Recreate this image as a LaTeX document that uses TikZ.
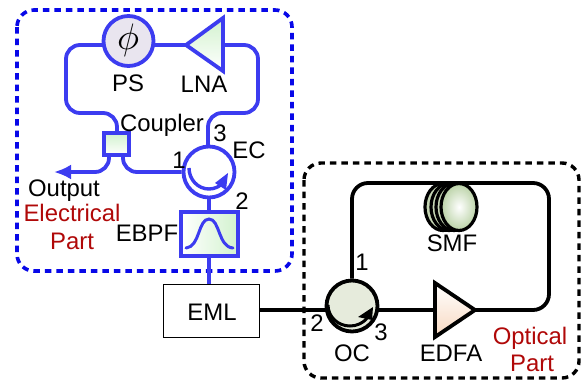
\documentclass[tikz,border=0pt]{standalone}
\usepackage{fontspec}
\setmainfont{Liberation Sans}
\usetikzlibrary{shapes.geometric,arrows.meta}
\definecolor{eblue}{HTML}{3C3CF0}
\definecolor{dblue}{HTML}{0808E8}
\definecolor{dred}{HTML}{B00808}
\definecolor{lgreen}{HTML}{D2F2CE}
\definecolor{psfill}{HTML}{E9E5EF}
\definecolor{ocfill}{HTML}{E6EBDC}
\definecolor{smfback}{HTML}{C6D6B4}
\definecolor{smffront}{HTML}{BAD2A6}
\definecolor{edfafill}{HTML}{F8D8C0}
\tikzset{
  lab/.style={font=\fontsize{24}{24}\selectfont,inner sep=0pt,text height=17bp,text depth=0pt,anchor=center},
  redlab/.style={lab,text=dred},
  ewire/.style={draw=eblue,line width=3.8bp,rounded corners=14bp},
  owire/.style={draw=black,line width=3.8bp,rounded corners=16bp},
  ebox/.style={draw=eblue,line width=3.8bp,inner sep=0pt,left color=lgreen,right color=white,shading angle=0},
  frameb/.style={draw=dblue,line width=3.6bp,dash pattern=on 6.5bp off 5bp,rounded corners=17bp},
  framek/.style={draw=black,line width=3.4bp,dash pattern=on 6.5bp off 5bp,rounded corners=17bp},
  coil/.style={ellipse,draw=black,line width=3.2bp,fill=smfback,minimum width=36bp,minimum height=47bp,inner sep=0pt},
}
\begin{document}
\begin{tikzpicture}[x=1bp,y=-1bp]
\useasboundingbox[fill=white] (0,0) rectangle (584,381);
\draw[frameb] (17,10) rectangle (292,271);
\draw[framek] (304,163) rectangle (579,378);
% named anchor points of the routes
\coordinate (cornL) at (66,45);
\coordinate (cornR) at (258,45);
\coordinate (lnaapex) at (186,45);
\coordinate (lnabase) at (223,45);
\coordinate (edfaapex) at (475,310);
\coordinate (edfabase) at (435,310);
\coordinate (outT) at (54,172);
% electrical wires (behind the components)
\draw[ewire] (128,45) -- (cornL) |- (117,113) -- (117,140);
\draw[ewire] (lnaapex) -- (128,45);
\draw[ewire] (lnabase) -- (cornR) |- (208,113) -- (208,160);
% components
\node[circle,draw=eblue,line width=3.8bp,fill=psfill,minimum size=50bp,inner sep=0pt] (ps) at (128.5,41) {};
\node[scale=3.7,inner sep=0pt] (phi) at (128,40) {$\phi$};
\path[draw=eblue,line width=3.8bp,line join=miter,left color=lgreen,right color=white,shading angle=0] (lnaapex) -- (223,18) -- (223,71) -- cycle;
\node[ebox,minimum width=25bp,minimum height=22bp] (cpl) at (116.5,144) {};
\node[circle,draw=eblue,line width=3.8bp,fill=white,minimum size=51bp,inner sep=0pt] (ec) at (209,172) {};
\node[ebox,minimum width=57bp,minimum height=44bp,left color=white,right color=lgreen] (ebpf) at (209.5,234) {};
\node[draw=black,line width=1bp,fill=white,minimum width=96bp,minimum height=53bp,inner sep=0pt] (eml) at (211,310.5) {};
\node[circle,draw=black,line width=3.8bp,fill=ocfill,minimum size=51bp,inner sep=0pt] (oc) at (352,306) {};
\path[draw=black,line width=3.8bp,line join=miter,left color=white,right color=edfafill,shading angle=0] (edfaapex) -- (435,283) -- (435,337) -- cycle;
% remaining wires
\draw[ewire,-{Latex[length=17bp,width=15bp]}] (109,155) -- (109,172) -- (outT);
\draw[ewire] (123,155) -- (123,172) -- (ec.west);
\draw[eblue,line width=3.8bp] (ec.south) -- (ebpf.north -| ec.south);
\draw[eblue,line width=3.8bp] (ebpf.south -| ec.south) -- (eml.north -| ec.south);
% circulator arrows
\draw[eblue,line width=3.4bp] (189,168) arc[start angle=180,end angle=320,x radius=20bp,y radius=21bp];
\fill[eblue] (228,173) -- (215,183) -- (226,190) -- cycle;
\draw[black,line width=3bp] (328,305) arc[start angle=180,end angle=320,x radius=22bp,y radius=21bp];
\fill[black] (373,307) -- (358,317) -- (372,320) -- cycle;
% filter curve
\draw[eblue,line width=3bp,line cap=round] (186,248) .. controls (200,247) and (198,219) .. (209,219) .. controls (220,219) and (218,247) .. (233,248);
% optical wires
\draw[black,line width=3.8bp] (eml.east |- edfaapex) -- (oc.west |- edfaapex);
\draw[black,line width=3.8bp] (oc.east |- edfaapex) -- (edfabase);
\draw[owire] (oc.north) -- (352,183) -- (549,183) -- (549,310) -- (edfaapex);
% SMF coil
\node[coil] (smfa) at (443,207) {};
\node[coil] (smfb) at (449,207) {};
\node[coil] (smfc) at (454,207) {};
\node[coil,inner color=white,outer color=smffront] (smf) at (459,207) {};
% labels
\node[lab] (lps) at (128,83) {PS};
\node[lab] (llna) at (204,84) {LNA};
\node[lab] (lcpl) at (162,123) {Coupler};
\node[lab] (l1) at (179,160) {1};
\node[lab] (l3) at (220,133) {3};
\node[lab] (lec) at (249,150) {EC};
\node[lab] (l2) at (242,201) {2};
\node[lab] (lout) at (64,188) {Output};
\node[redlab] (lel) at (72,213) {Electrical};
\node[redlab] (lpa) at (72,241) {Part};
\node[lab] (lebpf) at (147,233) {EBPF};
\node[lab] (leml) at (212,312) {EML};
\node[lab] (lsmf) at (452,243) {SMF};
\node[lab] (o1) at (362,262) {1};
\node[lab] (o2) at (317,323) {2};
\node[lab] (o3) at (381,332) {3};
\node[lab] (loc) at (352,353) {OC};
\node[lab] (ledfa) at (451,353) {EDFA};
\node[redlab] (lop) at (530,336) {Optical};
\node[redlab] (lpb) at (532,363) {Part};
\end{tikzpicture}
\end{document}
